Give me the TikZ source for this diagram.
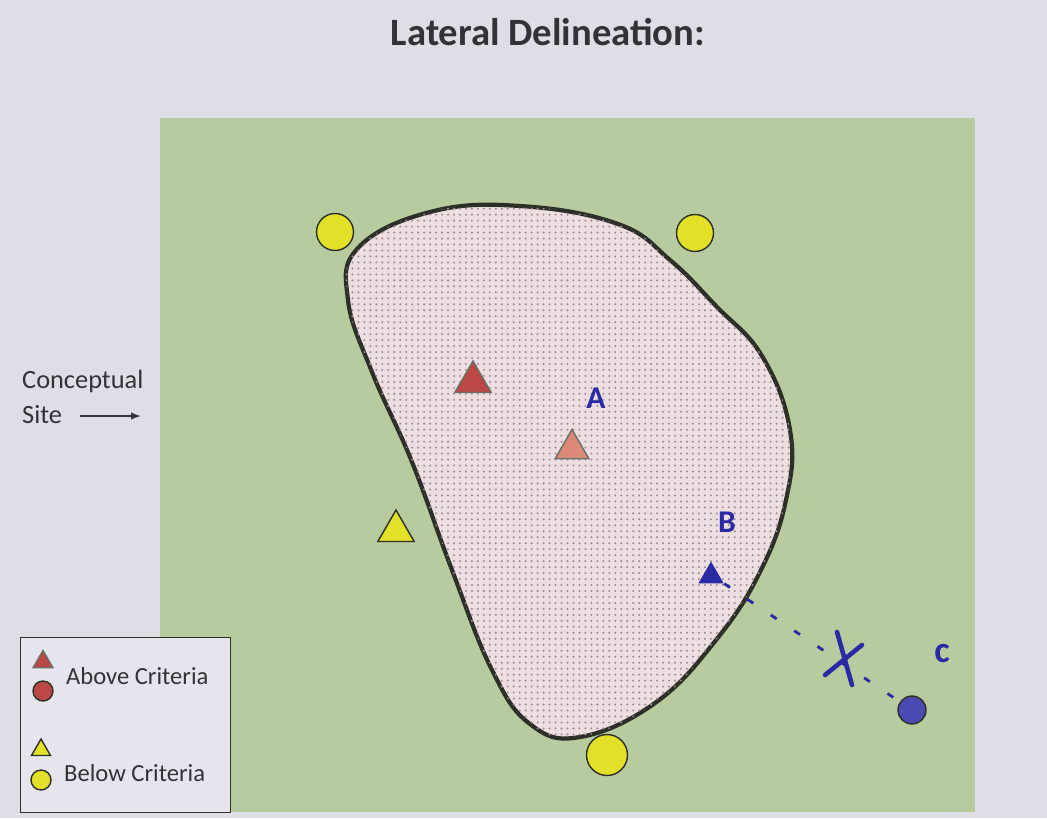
\documentclass[tikz,border=0pt]{standalone}
\usepackage{fontspec}
\setmainfont{Carlito}
\usetikzlibrary{arrows.meta,positioning,calc,shapes.geometric,patterns.meta}
\definecolor{paper_color}{RGB}{222,222,231}
\definecolor{site_color}{RGB}{184,203,158}
\definecolor{plume_color}{RGB}{236,222,225}
\definecolor{dot_color}{RGB}{160,140,146}
\definecolor{outline_color}{RGB}{45,48,40}
\definecolor{above_color}{RGB}{188,72,70}
\definecolor{above_light_color}{RGB}{218,138,118}
\definecolor{below_color}{RGB}{226,224,40}
\definecolor{pen_color}{RGB}{42,42,165}
\definecolor{legend_color}{RGB}{230,228,237}
\definecolor{text_color}{RGB}{50,50,55}
\tikzset{
  site/.style={
    fill=site_color, minimum width=16.3cm, minimum height=13.88cm, inner sep=0pt
  },
  plume/.style={
    draw=outline_color, line width=2.4pt, fill=plume_color,
    postaction={pattern={Dots[radius=0.65pt, distance=3.4pt]}, pattern color=dot_color}
  },
  below_well/.style={
    draw=outline_color, thick, circle, fill=below_color, minimum size=0.74cm
  },
  above_well/.style={
    draw=outline_color, thick, circle, fill=above_color, minimum size=0.4cm
  },
  below_tri/.style={
    draw=outline_color, thick, regular polygon, regular polygon sides=3,
    fill=below_color, minimum size=0.84cm, inner sep=0pt
  },
  above_tri/.style={
    draw=outline_color!70, thick, regular polygon, regular polygon sides=3,
    fill=above_color, minimum size=0.84cm, inner sep=0pt
  },
  pen_letter/.style={text=pen_color, font=\bfseries\fontsize{18}{20}\selectfont},
  pen_mark/.style={pen_color, line width=2.6pt, line cap=round},
  pen_dash/.style={pen_color, line width=1.6pt, dash pattern=on 4pt off 12pt},
  legend_box/.style={
    draw=outline_color, thick, fill=legend_color,
    minimum width=4.2cm, minimum height=3.5cm, inner sep=0pt
  },
  legend_text/.style={text=text_color, font=\fontsize{14}{16}\selectfont},
  pointer/.style={-{Latex[length=2mm]}, line width=0.9pt, text_color}
}

\begin{document}
\begin{tikzpicture}[x=0.02cm, y=-0.02cm]

\path[fill=paper_color, use as bounding box] (0,0) rectangle (1047,818);
\node[font=\bfseries\fontsize{22}{26}\selectfont, text=text_color] (title) at (548,32) {Lateral Delineation:};

\node[site, anchor=north west] (site) at (160,118) {};

\draw[plume] plot[smooth cycle, tension=0.7] coordinates {
  (358,248) (430,212) (520,206) (618,224) (670,260) (716,306) (762,356)
  (790,430) (786,500) (760,572) (716,640) (655,703) (580,737) (530,724)
  (492,670) (452,570) (412,462) (372,372) (348,300)};

% wells and samples
\node[below_well] (well_nw) at (335,232) {};
\node[below_well] (well_ne) at (695,233) {};
\node[below_well, minimum size=0.82cm] (well_s) at (607,755) {};
\node[below_tri] (tri_w) at (396,531) {};
\node[above_tri] (tri_red) at (473,382) {};
\node[above_tri, fill=above_light_color, minimum size=0.78cm] (tri_mid) at (572,449) {};

% pen marks
\node[pen_letter] (lbl_a) at (596,398) {A};
\node[pen_letter] (lbl_b) at (727,522) {B};
\node[pen_letter, font=\bfseries\fontsize{21}{22}\selectfont] (lbl_c) at (942,654) {c};
\node[regular polygon, regular polygon sides=3, fill=pen_color, inner sep=0pt,
      minimum size=0.58cm] (tri_b) at (711,576) {};
\node[circle, draw=outline_color, thick, fill=pen_color!85, minimum size=0.56cm] (well_c) at (912,710) {};
\draw[pen_dash] (tri_b.corner 3) -- (well_c);
\coordinate (cross) at (845,660);
\draw[pen_mark] ($(cross)+(-8,-28)$) -- ($(cross)+(7,25)$);
\draw[pen_mark] ($(cross)+(-20,15)$) -- ($(cross)+(17,-15)$);

% conceptual site label
\node[anchor=west, text=text_color, font=\fontsize{15}{18}\selectfont] (concept_lbl) at (16,381) {Conceptual};
\node[anchor=west, text=text_color, font=\fontsize{15}{18}\selectfont] (site_lbl) at (16,415) {Site};
\coordinate (site_tip) at (141,416);
\draw[pointer] ($(site_lbl.east)+(12,1)$) -- (site_tip);

% legend
\node[legend_box, anchor=north west] (legend) at (20,637) {};
\node[above_tri, minimum size=0.46cm] (leg_tri_red) at (43,662) {};
\node[above_well] (leg_well_red) at (43,691) {};
\node[below_tri, minimum size=0.44cm] (leg_tri_yel) at (41,750) {};
\node[below_well, minimum size=0.4cm] (leg_well_yel) at (41,780) {};
\node[legend_text, anchor=west] (leg_above) at (60,676) {Above Criteria};
\node[legend_text, anchor=west] (leg_below) at (58,773) {Below Criteria};

\end{tikzpicture}
\end{document}
